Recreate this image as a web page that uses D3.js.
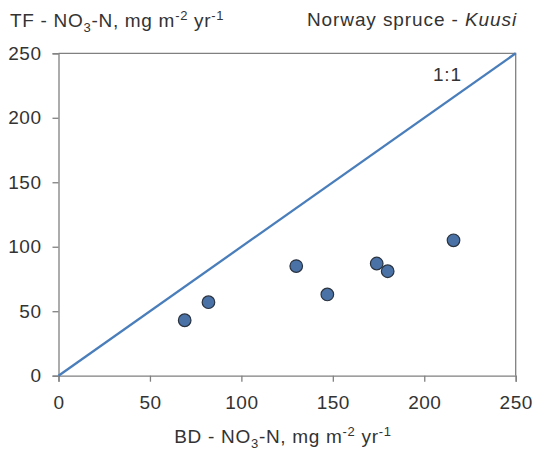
<!DOCTYPE html>
<html>
<head>
<meta charset="utf-8">
<script src="https://cdn.jsdelivr.net/npm/d3@7"></script>
<style>
  html, body { margin: 0; padding: 0; background: #fff; }
  svg { display: block; font-family: "Liberation Sans", Arial, sans-serif; }
</style>
</head>
<body>
<svg id="chart" width="535" height="452"></svg>
<script>
// Bulk deposition (x) vs throughfall (y), NO3-N in mg m-2 yr-1
const bdValues = [69, 82, 130, 147, 174, 180, 216];
const tfValues = [43, 57, 85, 63, 87, 81, 105];
const tickValues = [0, 50, 100, 150, 200, 250];
const oneToOne = [0, 250];

const svg = d3.select("#chart");
const margin = { left: 58.5, right: 535 - 515.7, top: 53.3, bottom: 452 - 375.7 };
const W = 535, H = 452;

const x = d3.scaleLinear().domain([0, 250]).range([margin.left, W - margin.right]);
const y = d3.scaleLinear().domain([0, 250]).range([H - margin.bottom, margin.top]);

const axisColor = "#808080";
const textColor = "#333";
const font = "'Liberation Sans', Arial, sans-serif";

// Frame (top and right edges)
svg.append("path")
  .attr("d", `M${x(0)},${y(250)}H${x(250)}V${y(0)}`)
  .attr("fill", "none").attr("stroke", axisColor).attr("stroke-width", 1.3);

// Axes
const xAxis = svg.append("g")
  .attr("transform", `translate(0,${y(0)})`)
  .call(d3.axisBottom(x).tickValues(tickValues).tickSize(6).tickPadding(14));
const yAxis = svg.append("g")
  .attr("transform", `translate(${x(0)},0)`)
  .call(d3.axisLeft(y).tickValues(tickValues).tickSize(6).tickPadding(11));

[xAxis, yAxis].forEach(g => {
  g.select(".domain").attr("stroke", axisColor).attr("stroke-width", 1.3);
  g.selectAll(".tick line").attr("stroke", axisColor).attr("stroke-width", 1.3);
  g.selectAll(".tick text").attr("fill", textColor).attr("font-size", 19)
    .attr("letter-spacing", 0.5).attr("font-family", font);
});

// 1:1 line
svg.append("line")
  .attr("x1", x(oneToOne[0])).attr("y1", y(oneToOne[0]))
  .attr("x2", x(oneToOne[1])).attr("y2", y(oneToOne[1]))
  .attr("stroke", "#4a7ebb").attr("stroke-width", 2.3);

svg.append("text")
  .attr("x", 433).attr("y", 81)
  .attr("font-size", 19).attr("letter-spacing", 0.8).attr("fill", textColor)
  .text("1:1");

// Data points
svg.append("g").selectAll("circle")
  .data(bdValues.map((d, i) => [d, tfValues[i]]))
  .join("circle")
  .attr("cx", d => x(d[0]))
  .attr("cy", d => y(d[1]))
  .attr("r", 6.3)
  .attr("fill", "#4a72a6")
  .attr("stroke", "#2a3340")
  .attr("stroke-width", 1.2);

// Unit label with subscript / superscripts
function unitLabel(sel, prefix) {
  sel.append("tspan").text(prefix + " - NO");
  sel.append("tspan").attr("font-size", 13).attr("dy", 5).text("3");
  sel.append("tspan").attr("dy", -5).text("-N, mg m");
  sel.append("tspan").attr("font-size", 13).attr("dy", -7).text("-2");
  sel.append("tspan").attr("dy", 7).text(" yr");
  sel.append("tspan").attr("font-size", 13).attr("dy", -7).text("-1");
}

// Y-axis title (top left)
unitLabel(svg.append("text")
  .attr("x", 10).attr("y", 27)
  .attr("font-size", 19).attr("letter-spacing", 0.7).attr("fill", textColor), "TF");

// Series title (top right)
const sTitle = svg.append("text")
  .attr("x", 517).attr("y", 26).attr("text-anchor", "end")
  .attr("font-size", 19).attr("letter-spacing", 0.9).attr("fill", textColor);
sTitle.append("tspan").text("Norway spruce - ");
sTitle.append("tspan").attr("font-style", "italic").text("Kuusi");

// X-axis title
unitLabel(svg.append("text")
  .attr("x", 283).attr("y", 443).attr("text-anchor", "middle")
  .attr("font-size", 19).attr("letter-spacing", 0.7).attr("fill", textColor), "BD");
</script>
</body>
</html>
